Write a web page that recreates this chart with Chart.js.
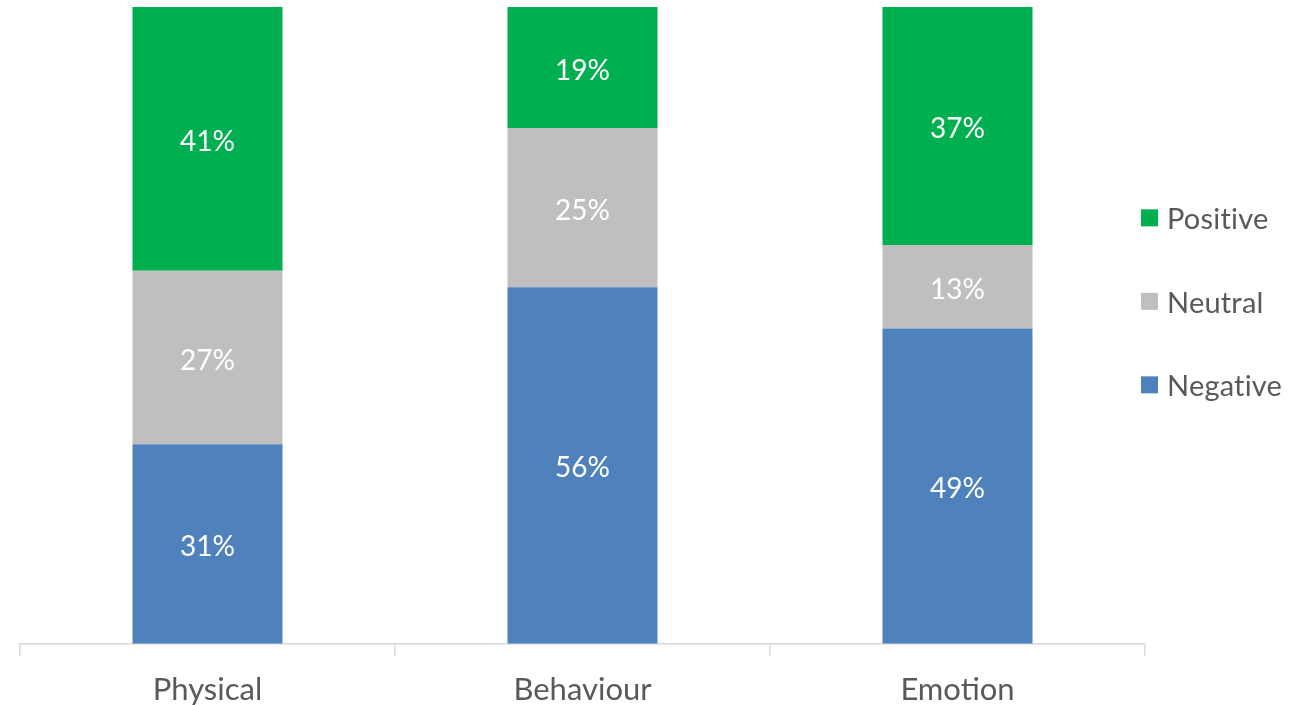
<!DOCTYPE html>
<html>
<head>
<meta charset="utf-8">
<script src="https://cdn.jsdelivr.net/npm/chart.js@4/dist/chart.umd.min.js"></script>
<style>
  html, body { margin: 0; padding: 0; background: #fff; }
  #wrap { width: 1304px; height: 705px; position: relative; }
</style>
</head>
<body>
<div id="wrap"><canvas id="chart"></canvas></div>
<script>
"use strict";

var categories = ["Physical", "Behaviour", "Emotion"];
var negative = [31, 56, 49];
var neutral = [27, 25, 13];
var positive = [41, 19, 37];

var FONT = "Lato, 'Open Sans', sans-serif";
var TEXT = "#595959";

// 100% stacked: each column is scaled by its own total
function share(series, i) {
    var total = negative[i] + neutral[i] + positive[i];
    return series[i] / total * 100;
}
function shares(series) {
    return series.map(function (v, i) { return share(series, i); });
}

var datasets = [
    { label: "Negative", raw: negative, data: shares(negative), backgroundColor: "#4F81BD" },
    { label: "Neutral", raw: neutral, data: shares(neutral), backgroundColor: "#BFBFBF" },
    { label: "Positive", raw: positive, data: shares(positive), backgroundColor: "#00B050" }
];
datasets.forEach(function (ds) {
    ds.barPercentage = 0.4;
    ds.categoryPercentage = 1;
    ds.borderWidth = 0;
});

// white value labels in the middle of each segment
var valueLabels = {
    id: "valueLabels",
    afterDatasetsDraw: function (chart) {
        var ctx = chart.ctx;
        ctx.save();
        ctx.fillStyle = "#ffffff";
        ctx.font = "28px " + FONT;
        ctx.textAlign = "center";
        ctx.textBaseline = "middle";
        chart.data.datasets.forEach(function (ds, di) {
            chart.getDatasetMeta(di).data.forEach(function (bar, i) {
                var y = (bar.y + bar.base) / 2 + 3;
                ctx.fillText(ds.raw[i] + "%", bar.x, y);
            });
        });
        ctx.restore();
    }
};

// legend on the right, Positive on top
var sideLegend = {
    id: "sideLegend",
    afterDraw: function (chart) {
        var ctx = chart.ctx;
        var area = chart.chartArea;
        var x = area.right - 4;
        var mid = (area.top + area.bottom) / 2 - 24;
        var step = 83.5;
        var items = chart.data.datasets.slice().reverse();
        ctx.save();
        ctx.font = "29px " + FONT;
        ctx.letterSpacing = "0.2px"; // keeps "ti" from turning into a ligature
        ctx.textBaseline = "middle";
        ctx.textAlign = "left";
        items.forEach(function (ds, k) {
            var cy = mid + (k - 1) * step;
            ctx.fillStyle = ds.backgroundColor;
            ctx.fillRect(x, cy - 8.5, 17, 17);
            ctx.fillStyle = TEXT;
            ctx.fillText(ds.label, x + 26, cy + 2);
        });
        ctx.restore();
    }
};

new Chart(document.getElementById("chart"), {
    type: "bar",
    data: { labels: categories, datasets: datasets },
    plugins: [valueLabels, sideLegend],
    options: {
        responsive: true,
        maintainAspectRatio: false,
        animation: false,
        layout: { padding: { top: 7, left: 20, right: 159, bottom: -19 } },
        plugins: {
            legend: { display: false },
            tooltip: { enabled: false }
        },
        scales: {
            x: {
                stacked: true,
                offset: true,
                border: { color: "#D9D9D9", width: 1.5 },
                grid: {
                    offset: true,
                    drawOnChartArea: false,
                    drawTicks: true,
                    tickLength: 12,
                    color: "#D9D9D9",
                    lineWidth: 1.5
                },
                ticks: {
                    color: TEXT,
                    font: { family: FONT, size: 31, lineHeight: 0.72 },
                    padding: 23
                }
            },
            y: {
                stacked: true,
                display: false,
                min: 0,
                max: 100
            }
        }
    }
});
</script>
</body>
</html>
